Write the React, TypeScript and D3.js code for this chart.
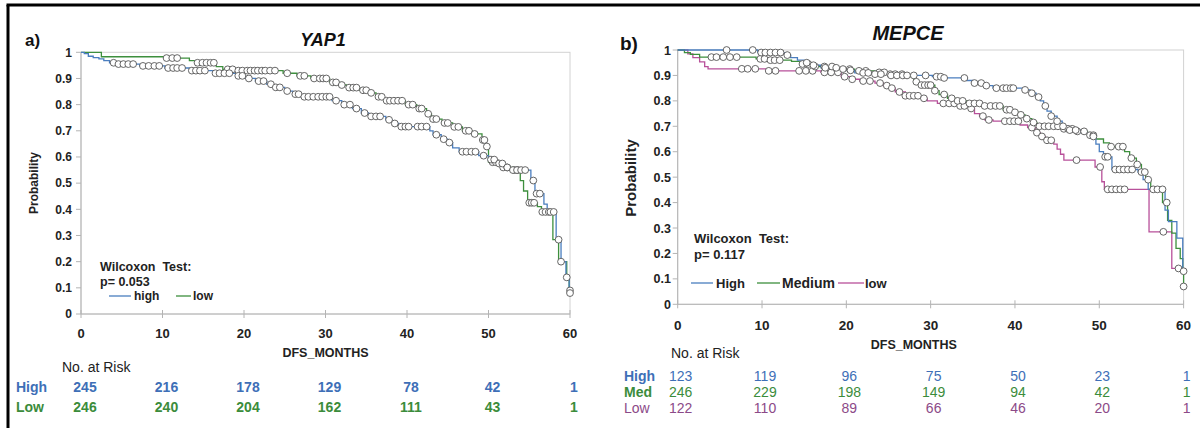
import React from 'react';
import * as d3 from 'd3';

type Pt = [number, number];

// ---- axis ticks ----
const monthTicks = [0, 10, 20, 30, 40, 50, 60];
const probTicks = [0, 0.1, 0.2, 0.3, 0.4, 0.5, 0.6, 0.7, 0.8, 0.9, 1];
const probTickLabels = ['0', '0.1', '0.2', '0.3', '0.4', '0.5', '0.6', '0.7', '0.8', '0.9', '1'];

// ---- a) YAP1 ----
const yapHighSteps: Pt[] = [
  [0, 1], [0.4, 0.995], [0.9, 0.985], [1.5, 0.98], [2.2, 0.975], [2.8, 0.968], [3.5, 0.96], [4.4, 0.955],
  [7.2, 0.948], [10.3, 0.94], [13.3, 0.93], [16.2, 0.92], [19.0, 0.91], [20.2, 0.9], [21.4, 0.89],
  [22.8, 0.878], [23.6, 0.866], [25.0, 0.852], [26.0, 0.84], [27.0, 0.83], [30.8, 0.815], [32.0, 0.8],
  [33.3, 0.785], [34.4, 0.768], [35.3, 0.755], [37.4, 0.742], [38.2, 0.728], [39.0, 0.716], [42.8, 0.7],
  [43.2, 0.685], [44.2, 0.668], [45.0, 0.655], [45.6, 0.635], [46.4, 0.62], [48.8, 0.605], [50.0, 0.59],
  [51.0, 0.575], [52.0, 0.56], [52.6, 0.55], [55.2, 0.51], [55.7, 0.46], [56.8, 0.42], [57.2, 0.39],
  [58.3, 0.284], [58.9, 0.2], [59.5, 0.14], [59.9, 0.08], [60, 0.08],
];
const yapHighCensor = [
  4.0, 4.6, 5.2, 5.8, 6.4, 7.6, 8.3, 9.0, 9.6, 10.7, 11.3, 11.8, 12.4, 13.6, 14.1, 14.6, 15.2, 16.5, 17.0,
  17.6, 18.2, 19.3, 19.8, 20.6, 21.8, 22.4, 23.3, 23.9, 24.4, 25.3, 26.3, 26.7, 27.4, 27.9, 28.5, 29.1,
  29.6, 30.1, 30.5, 31.3, 32.3, 33.0, 33.8, 34.8, 35.6, 36.2, 36.7, 37.8, 38.5, 39.3, 39.8, 40.2, 41.3,
  41.8, 42.4, 43.6, 44.5, 45.2, 46.8, 47.3, 47.9, 48.4, 49.4, 50.3, 50.7, 51.3, 51.7, 52.3, 53.0, 53.5,
  54.0, 54.5, 55.5, 55.9, 56.3, 57.6, 58.0, 58.6, 59.6, 60,
];
const yapLowSteps: Pt[] = [
  [0, 1], [2.5, 0.983], [10.2, 0.978], [13.3, 0.968], [14.0, 0.96], [16.6, 0.945], [17.4, 0.935],
  [19.0, 0.93], [24.8, 0.92], [26.5, 0.91], [28.2, 0.9], [30.5, 0.885], [31.8, 0.875], [32.6, 0.865],
  [34.2, 0.855], [35.2, 0.845], [36.2, 0.83], [37.2, 0.815], [39.8, 0.8], [41.2, 0.785], [42.4, 0.765],
  [43.0, 0.745], [44.3, 0.73], [45.6, 0.715], [46.8, 0.7], [48.0, 0.688], [49.2, 0.665], [49.6, 0.64],
  [50.0, 0.58], [51.5, 0.56], [53.0, 0.55], [53.9, 0.51], [54.3, 0.47], [54.8, 0.425], [56.0, 0.41],
  [56.5, 0.39], [57.9, 0.284], [58.6, 0.2], [59.6, 0.14], [59.9, 0.09], [60, 0.09],
];
const yapLowCensor = [
  10.5, 11.2, 11.8, 14.3, 14.9, 15.4, 15.9, 16.3, 18.0, 18.6, 19.3, 19.8, 20.4, 20.8, 21.3, 21.7, 22.2,
  22.6, 23.2, 23.8, 25.3, 26.9, 27.4, 28.6, 29.3, 29.7, 30.1, 30.9, 31.3, 32.0, 32.9, 33.4, 33.8, 34.6,
  35.0, 35.6, 36.5, 36.9, 37.5, 37.9, 38.4, 38.9, 39.4, 40.2, 40.7, 41.5, 41.8, 42.6, 43.2, 43.6, 44.6,
  45.0, 45.8, 46.3, 47.2, 47.6, 48.3, 49.3, 49.5, 49.8, 50.5, 50.9, 51.8, 52.3, 53.2, 53.6, 55.0, 55.3,
  55.6, 56.6, 57.0, 57.4, 58.9, 60,
];
const yapRiskHigh = [245, 216, 178, 129, 78, 42, 1];
const yapRiskLow = [246, 240, 204, 162, 111, 43, 1];

// ---- b) MEPCE ----
const mepHighSteps: Pt[] = [
  [0, 1], [9.5, 0.99], [12.8, 0.98], [13.4, 0.97], [14.2, 0.96], [15.0, 0.95], [15.8, 0.94], [17.0, 0.93],
  [19.0, 0.92], [21.0, 0.91], [23.0, 0.905], [25.0, 0.9], [30.2, 0.895], [31.5, 0.89], [34.3, 0.88],
  [35.0, 0.87], [36.4, 0.86], [37.4, 0.85], [41.0, 0.843], [41.8, 0.83], [42.5, 0.815], [43.0, 0.8],
  [43.4, 0.78], [43.8, 0.76], [44.3, 0.74], [45.0, 0.72], [45.6, 0.7], [46.3, 0.685], [47.8, 0.675],
  [49.0, 0.66], [49.6, 0.63], [50.0, 0.6], [50.5, 0.58], [51.5, 0.53], [54.6, 0.52], [55.2, 0.49],
  [55.8, 0.452], [57.8, 0.37], [58.2, 0.325], [59.2, 0.26], [59.9, 0.13], [60, 0.13],
];
const mepHighCensor = [
  5.8, 8.9, 9.9, 10.4, 11.0, 11.6, 12.2, 13.0, 15.3, 16.1, 17.5, 18.8, 20.5, 22.0, 22.6, 23.4, 24.1, 25.3,
  26.0, 26.7, 27.2, 28.0, 29.4, 30.7, 31.2, 31.6, 34.0, 35.2, 36.0, 36.6, 37.8, 38.6, 39.0, 39.5, 39.8,
  41.2, 42.0, 42.8, 43.6, 44.3, 45.0, 45.7, 46.5, 47.2, 49.3, 50.7, 51.0, 51.9, 52.4, 52.9, 53.4, 53.9,
  56.4, 56.9, 57.5, 60,
];
const mepMedSteps: Pt[] = [
  [0, 1], [0.8, 0.99], [1.5, 0.983], [2.6, 0.972], [9.3, 0.965], [10.8, 0.96], [13.5, 0.955], [14.5, 0.945],
  [16.0, 0.935], [19.0, 0.925], [21.0, 0.918], [23.4, 0.912], [25.0, 0.905], [27.4, 0.895], [28.0, 0.875],
  [28.6, 0.862], [30.5, 0.84], [31.0, 0.825], [32.0, 0.81], [33.0, 0.8], [34.3, 0.79], [36.0, 0.78],
  [38.6, 0.765], [39.6, 0.755], [40.5, 0.745], [41.2, 0.73], [42.0, 0.715], [42.6, 0.7], [45.5, 0.69],
  [47.0, 0.68], [48.6, 0.665], [49.6, 0.65], [50.5, 0.635], [51.2, 0.62], [53.0, 0.6], [53.6, 0.575],
  [54.4, 0.55], [55.0, 0.52], [55.5, 0.49], [56.1, 0.46], [57.5, 0.4], [58.1, 0.33], [58.6, 0.28],
  [59.1, 0.22], [59.6, 0.18], [59.9, 0.13], [60, 0.07],
];
const mepMedCensor = [
  4.0, 4.6, 5.4, 6.2, 7.0, 9.8, 10.3, 11.0, 11.5, 12.1, 14.8, 15.5, 16.3, 17.4, 18.3, 19.6, 20.4, 21.5,
  22.3, 23.9, 24.5, 25.2, 25.8, 26.6, 28.3, 28.9, 29.3, 29.7, 30.0, 30.5, 31.6, 32.5, 33.2, 33.8, 34.6,
  35.2, 35.8, 36.4, 37.1, 37.7, 38.2, 39.0, 39.4, 40.0, 40.7, 41.4, 42.2, 42.9, 43.5, 44.0, 44.6, 45.1,
  45.8, 46.3, 46.8, 47.4, 48.2, 48.9, 49.3, 51.4, 52.3, 52.8, 53.8, 54.5, 55.0, 55.4, 55.8, 58.0, 60,
];
const mepLowSteps: Pt[] = [
  [0, 1], [1.2, 0.985], [1.8, 0.97], [2.6, 0.953], [3.2, 0.935], [3.6, 0.926], [10.5, 0.918], [17.0, 0.912],
  [19.4, 0.895], [20.5, 0.885], [21.6, 0.878], [23.4, 0.87], [24.4, 0.86], [25.3, 0.85], [25.8, 0.835],
  [27.0, 0.82], [28.6, 0.81], [29.6, 0.8], [30.8, 0.79], [33.5, 0.78], [34.5, 0.77], [35.2, 0.75],
  [35.8, 0.74], [36.4, 0.725], [37.4, 0.72], [40.6, 0.705], [41.5, 0.695], [42.4, 0.675], [43.0, 0.66],
  [43.6, 0.645], [44.6, 0.63], [45.0, 0.61], [45.4, 0.59], [45.8, 0.567], [49.5, 0.54], [50.3, 0.482],
  [50.6, 0.452], [55.9, 0.285], [58.6, 0.141], [59.6, 0.13], [60, 0.13],
];
const mepLowCensor = [
  7.6, 8.3, 9.2, 10.8, 11.6, 14.4, 15.2, 16.0, 17.4, 18.2, 19.0, 19.8, 20.7, 22.0, 22.8, 24.0, 24.8, 25.4,
  26.3, 27.0, 27.5, 28.0, 28.5, 29.2, 31.5, 32.2, 32.8, 33.5, 34.0, 34.8, 36.2, 36.9, 38.8, 39.4, 39.9,
  40.4, 42.0, 42.6, 43.2, 43.8, 44.3, 47.3, 50.1, 51.0, 51.5, 52.0, 52.5, 53.0, 57.6, 59.4,
];
const mepRiskHigh = [123, 119, 96, 75, 50, 23, 1];
const mepRiskMed = [246, 229, 198, 149, 94, 42, 1];
const mepRiskLow = [122, 110, 89, 66, 46, 20, 1];

// ---- colours ----
const BLUE = '#4a7ebf';
const GREEN = '#3d8f3d';
const MAGENTA = '#b8509a';
const T_BLUE = '#3e6fb7';
const T_GREEN = '#3b8c3b';
const T_PURPLE = '#8c4a88';
const FONT = "'Liberation Sans', Arial, sans-serif";

const bisect = d3.bisector((d: Pt) => d[0]).right;
function survAt(steps: Pt[], t: number) {
  const i = bisect(steps, t);
  return steps[Math.max(0, i - 1)][1];
}

type Series = { steps: Pt[]; censor: number[]; color: string };

function Plot({ x, y, series, yLabelX, yFont, xLabelY, xFont }: {
  x: d3.ScaleLinear<number, number>; y: d3.ScaleLinear<number, number>; series: Series[];
  yLabelX: number; yFont: number; xLabelY: number; xFont: number;
}) {
  const line = d3.line<Pt>().x(d => x(d[0])).y(d => y(d[1])).curve(d3.curveStepAfter);
  const [x0, x1] = x.range();
  const [yb, yt] = y.range();
  return (
    <g>
      <rect x={x0} y={yt} width={x1 - x0} height={yb - yt} fill="none" stroke="#d2d2d2" strokeWidth={1} />
      <line x1={x0} x2={x0} y1={yt} y2={yb} stroke="#b4b4b4" />
      <line x1={x0} x2={x1} y1={yb} y2={yb} stroke="#b4b4b4" />
      {probTicks.map((p, i) => (
        <g key={'y' + i}>
          <line x1={x0 - 5} x2={x0} y1={y(p)} y2={y(p)} stroke="#b4b4b4" />
          <text x={yLabelX} y={y(p) + yFont * 0.36} textAnchor="end" fontSize={yFont} fontWeight="bold" fill="#222">{probTickLabels[i]}</text>
        </g>
      ))}
      {monthTicks.map(m => (
        <g key={'x' + m}>
          <line x1={x(m)} x2={x(m)} y1={yb - 4} y2={yb + 4} stroke="#b4b4b4" />
          <text x={x(m)} y={xLabelY} textAnchor="middle" fontSize={xFont} fontWeight="bold" fill="#222">{m}</text>
        </g>
      ))}
      {series.map((s, i) => (
        <path key={'l' + i} d={line(s.steps) || ''} fill="none" stroke={s.color} strokeWidth={1.3} />
      ))}
      {series.map((s, i) => (
        <g key={'c' + i}>
          {s.censor.map((t, j) => (
            <circle key={j} cx={x(t)} cy={y(survAt(s.steps, t))} r={3.4} fill="#fff" stroke="#555" strokeWidth={0.9} />
          ))}
        </g>
      ))}
    </g>
  );
}

export default function App() {
  const xA = d3.scaleLinear().domain([0, 60]).range([81, 570]);
  const yA = d3.scaleLinear().domain([0, 1]).range([314, 52.3]);
  const xB = d3.scaleLinear().domain([0, 60]).range([677.7, 1183.6]);
  const yB = d3.scaleLinear().domain([0, 1]).range([304.3, 50]);

  const seriesA: Series[] = [
    { steps: yapLowSteps, censor: yapLowCensor, color: GREEN },
    { steps: yapHighSteps, censor: yapHighCensor, color: BLUE },
  ];
  const seriesB: Series[] = [
    { steps: mepLowSteps, censor: mepLowCensor, color: MAGENTA },
    { steps: mepMedSteps, censor: mepMedCensor, color: GREEN },
    { steps: mepHighSteps, censor: mepHighCensor, color: BLUE },
  ];

  return (
    <svg width={1200} height={428} style={{ position: 'absolute', left: 0, top: 0, background: '#fff' }} fontFamily={FONT}>
      <rect x={0} y={0} width={1200} height={428} fill="#fff" />
      {/* outer border */}
      <line x1={6.5} x2={1200} y1={5} y2={5} stroke="#000" strokeWidth={3} />
      <line x1={8} x2={8} y1={5} y2={428} stroke="#000" strokeWidth={3} />

      {/* ---------- panel a ---------- */}
      <text x={25} y={46} fontSize={17} fontWeight="bold" fill="#111">a)</text>
      <text x={323} y={46} textAnchor="middle" fontSize={18} fontWeight="bold" fontStyle="italic" fill="#111">YAP1</text>
      <text transform="translate(38,183) rotate(-90)" textAnchor="middle" fontSize={12} fontWeight="bold" fill="#222">Probability</text>
      <Plot x={xA} y={yA} series={seriesA} yLabelX={72} yFont={12} xLabelY={338} xFont={13} />
      <text x={100} y={271} fontSize={12.5} fontWeight="bold" fill="#222" xmlSpace="preserve">Wilcoxon  Test:</text>
      <text x={100} y={286} fontSize={12.5} fontWeight="bold" fill="#222">p= 0.053</text>
      <line x1={109} x2={131} y1={296} y2={296} stroke={BLUE} strokeWidth={1.3} />
      <text x={134} y={300} fontSize={12} fontWeight="bold" fill="#222">high</text>
      <line x1={176} x2={191} y1={296} y2={296} stroke={GREEN} strokeWidth={1.3} />
      <text x={193} y={300} fontSize={12} fontWeight="bold" fill="#222">low</text>
      <text x={xA(30)} y={357} textAnchor="middle" fontSize={12.5} fontWeight="bold" fill="#222">DFS_MONTHS</text>
      <text x={62} y={372} fontSize={14} fill="#222">No. at Risk</text>
      <text x={16} y={392} fontSize={14} fontWeight="bold" fill={T_BLUE}>High</text>
      <text x={16} y={412} fontSize={14} fontWeight="bold" fill={T_GREEN}>Low</text>
      {monthTicks.map((m, i) => (
        <g key={'ra' + m}>
          <text x={xA(m) + 4} y={392} textAnchor="middle" fontSize={14} fontWeight="bold" fill={T_BLUE}>{yapRiskHigh[i]}</text>
          <text x={xA(m) + 4} y={412} textAnchor="middle" fontSize={14} fontWeight="bold" fill={T_GREEN}>{yapRiskLow[i]}</text>
        </g>
      ))}

      {/* ---------- panel b ---------- */}
      <text x={620} y={50} fontSize={19} fontWeight="bold" fill="#111">b)</text>
      <text x={908} y={40} textAnchor="middle" fontSize={20} fontWeight="bold" fontStyle="italic" fill="#111">MEPCE</text>
      <text transform="translate(636,178) rotate(-90)" textAnchor="middle" fontSize={15} fontWeight="bold" fill="#222">Probability</text>
      <Plot x={xB} y={yB} series={seriesB} yLabelX={671} yFont={12.5} xLabelY={330} xFont={13.5} />
      <text x={694} y={243} fontSize={13} fontWeight="bold" fill="#222" xmlSpace="preserve">Wilcoxon  Test:</text>
      <text x={694} y={259} fontSize={13} fontWeight="bold" fill="#222">p= 0.117</text>
      <line x1={691} x2={713} y1={283} y2={283} stroke={BLUE} strokeWidth={1.3} />
      <text x={716} y={288} fontSize={13} fontWeight="bold" fill="#222">High</text>
      <line x1={757} x2={780} y1={283} y2={283} stroke={GREEN} strokeWidth={1.3} />
      <text x={782} y={288} fontSize={14} fontWeight="bold" fill="#222">Medium</text>
      <line x1={838} x2={864} y1={283} y2={283} stroke={MAGENTA} strokeWidth={1.3} />
      <text x={865} y={288} fontSize={13} fontWeight="bold" fill="#222">low</text>
      <text x={xB(28)} y={349} textAnchor="middle" fontSize={12.5} fontWeight="bold" fill="#222">DFS_MONTHS</text>
      <text x={671} y={358} fontSize={14} fill="#222">No. at Risk</text>
      <text x={624} y={381} fontSize={14} fontWeight="bold" fill={T_BLUE}>High</text>
      <text x={624} y={397} fontSize={14} fontWeight="bold" fill={T_GREEN}>Med</text>
      <text x={624} y={413} fontSize={14} fill={T_PURPLE}>Low</text>
      {monthTicks.map((m, i) => (
        <g key={'rb' + m}>
          <text x={xB(m) + 3} y={381} textAnchor="middle" fontSize={14} fill={T_BLUE}>{mepRiskHigh[i]}</text>
          <text x={xB(m) + 3} y={397} textAnchor="middle" fontSize={14} fill={T_GREEN}>{mepRiskMed[i]}</text>
          <text x={xB(m) + 3} y={413} textAnchor="middle" fontSize={14} fill={T_PURPLE}>{mepRiskLow[i]}</text>
        </g>
      ))}
    </svg>
  );
}
